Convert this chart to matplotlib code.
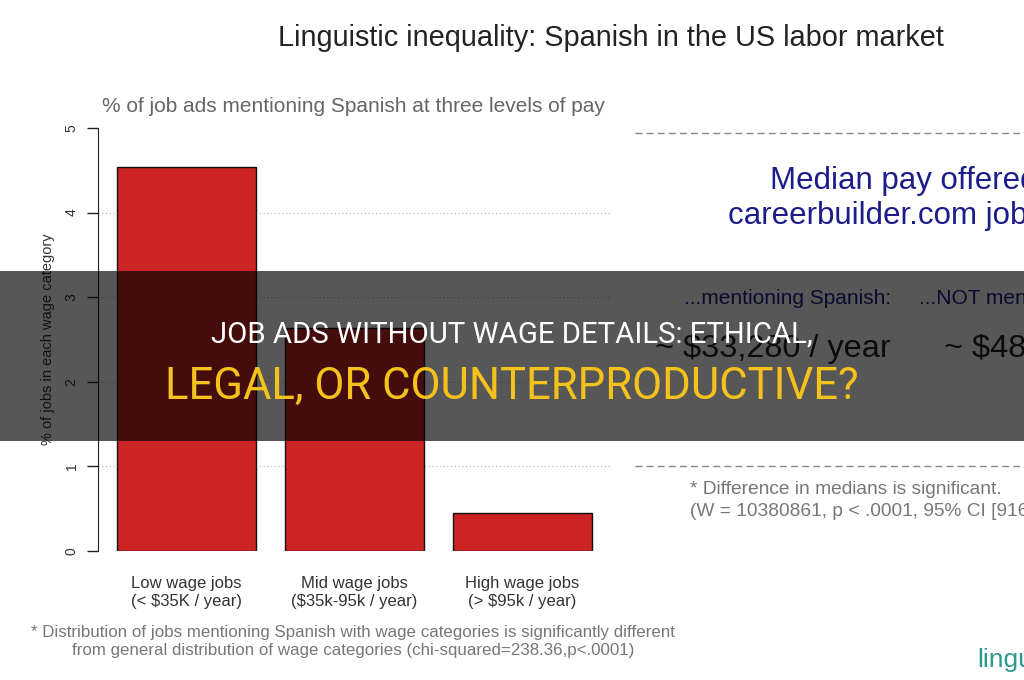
import matplotlib
matplotlib.use("Agg")
import matplotlib.pyplot as plt
from matplotlib.patches import Rectangle

plt.rcParams['font.family'] = ['Liberation Sans', 'DejaVu Sans']

categories = ["Low wage jobs\n(< $35K / year)",
              "Mid wage jobs\n($35k-95k / year)",
              "High wage jobs\n(> $95k / year)"]
values = [4.54, 2.64, 0.45]
yticks = [0, 1, 2, 3, 4, 5]
grid_levels = [1, 2, 3, 4]

fig = plt.figure(figsize=(10.24, 6.8), dpi=100)
fig.patch.set_facecolor('white')

# bar chart on the left
ax = fig.add_axes([98 / 1024, 129 / 680, 513 / 1024, 423 / 680])
xs = list(range(len(values)))
for g in grid_levels:
    ax.axhline(g, color='#bbbbbb', linestyle=(0, (1, 2)), linewidth=0.9, zorder=0)
ax.bar(xs, values, width=0.83, color='#cc2424', edgecolor='#111111', linewidth=1.0, zorder=2)
ax.set_xlim(-0.527, 2.527)
ax.set_ylim(0, 5)
for s in ['top', 'right', 'bottom']:
    ax.spines[s].set_visible(False)
ax.spines['left'].set_color('#222222')
ax.set_yticks(yticks)
ax.set_yticklabels([str(t) for t in yticks], rotation=90, va='center',
                   fontsize=10, color='#333333')
ax.tick_params(axis='y', length=8, width=1, color='#222222', pad=6)
ax.set_xticks(xs)
ax.set_xticklabels(categories, fontsize=12, color='#333333', linespacing=1.25)
ax.tick_params(axis='x', length=0, pad=18)
ax.set_ylabel('% of jobs in each wage category', fontsize=10.5, color='#333333', labelpad=7)

# titles
fig.text(611 / 1024, 1 - 38 / 680, 'Linguistic inequality: Spanish in the US labor market',
         ha='center', va='center', fontsize=20.8, color='#222222')
fig.text(353 / 1024, 1 - 106 / 680, '% of job ads mentioning Spanish at three levels of pay',
         ha='center', va='center', fontsize=15, color='#666666')

# right panel
for yy in [133, 466]:
    fig.add_artist(plt.Line2D([635 / 1024, 1.0], [1 - yy / 680, 1 - yy / 680],
                              color='#888888', linestyle=(0, (5, 3)), linewidth=1.0))
navy = '#1c1c8a'
fig.text(770 / 1024, 1 - 181 / 680, 'Median pay offered in', fontsize=22.5, color=navy,
         ha='left', va='center')
fig.text(728 / 1024, 1 - 216 / 680, 'careerbuilder.com jobs...', fontsize=22.5, color=navy,
         ha='left', va='center')
fig.text(684 / 1024, 1 - 298 / 680, '...mentioning Spanish:', fontsize=15, color=navy,
         ha='left', va='center')
fig.text(919 / 1024, 1 - 298 / 680, '...NOT mentioning Spanish:', fontsize=15, color=navy,
         ha='left', va='center')
fig.text(655 / 1024, 1 - 349 / 680, '~ $33,280 / year', fontsize=23.4, color='#222222',
         ha='left', va='center')
fig.text(944 / 1024, 1 - 349 / 680, '~ $48,000 / year', fontsize=23.4, color='#222222',
         ha='left', va='center')
fig.text(690 / 1024, 1 - 490 / 680, '* Difference in medians is significant.', fontsize=13.8,
         color='#777777', ha='left', va='center')
fig.text(690 / 1024, 1 - 512 / 680, '(W = 10380861, p < .0001, 95% CI [9160, 11000])',
         fontsize=13.8, color='#777777', ha='left', va='center')
fig.text(977 / 1024, 1 - 660 / 680, 'linguisticpulse.com', fontsize=19, color='#2e9a8c',
         ha='left', va='center')

# footnote under the bars
fig.text(353 / 1024, 1 - 642 / 680,
         '* Distribution of jobs mentioning Spanish with wage categories is significantly different\n'
         'from general distribution of wage categories (chi-squared=238.36,p<.0001)',
         fontsize=12.2, color='#777777', ha='center', va='center', linespacing=1.25)

# dark banner with headline
fig.add_artist(Rectangle((0, 1 - 441 / 680), 1, 170 / 680, transform=fig.transFigure,
                         facecolor='black', alpha=0.66, edgecolor='none', zorder=10))
fig.text(0.5, 1 - 335 / 680, 'JOB ADS WITHOUT WAGE DETAILS: ETHICAL,', family='Roboto',
         fontsize=21.2, color='white', ha='center', va='center', zorder=11)
fig.text(0.5, 1 - 387 / 680, 'LEGAL, OR COUNTERPRODUCTIVE?', family='Roboto',
         fontsize=31.4, color='#f5c21b', ha='center', va='center', zorder=11)

fig.savefig('out.png', dpi=100)
